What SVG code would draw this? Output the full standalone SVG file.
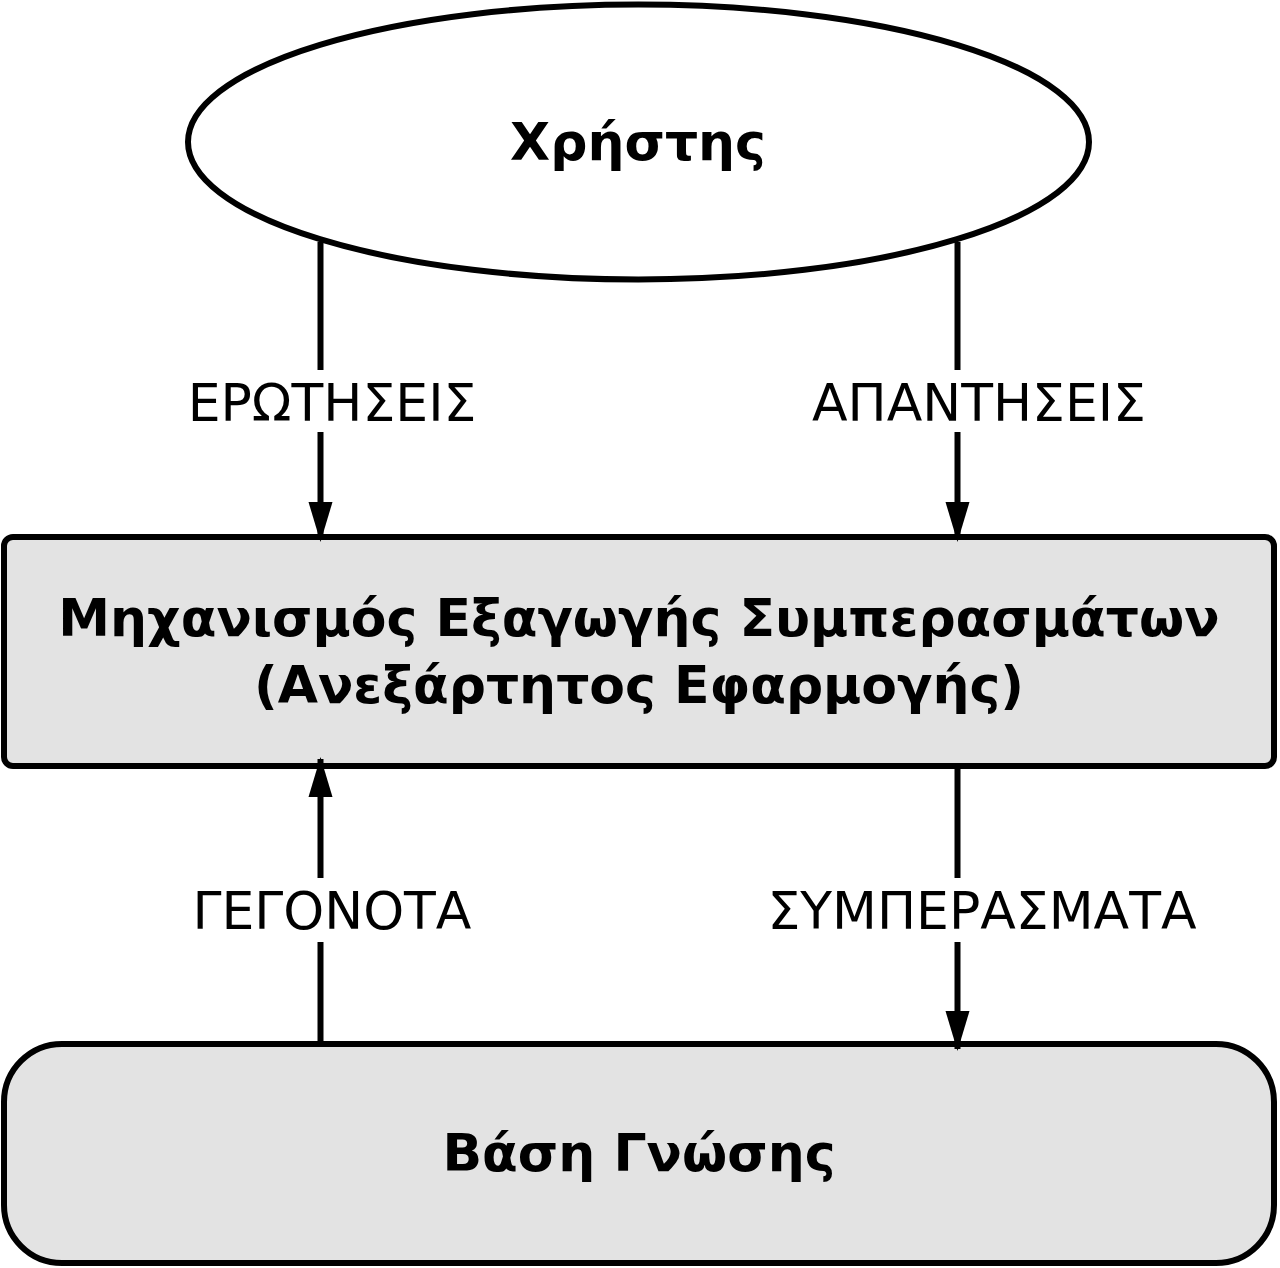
<svg xmlns="http://www.w3.org/2000/svg" width="1280" height="1268" viewBox="0 0 1280 1268">
<style>
.shape{stroke:#000;stroke-width:6}
.t{font-family:"DejaVu Sans",sans-serif;font-size:52px;fill:#000;text-anchor:middle}
.b{font-weight:bold}
.ln{stroke:#000;stroke-width:6;fill:none}
</style>
<defs>
<marker id="ah" markerUnits="userSpaceOnUse" markerWidth="40" markerHeight="26" refX="38" refY="13" orient="auto" viewBox="0 0 40 26">
<path d="M0,1 L40,13 L0,25 Z" fill="#000"/>
</marker>
</defs>
<rect width="1280" height="1268" fill="#fff"/>
<g id="user">
<ellipse class="shape" cx="638.5" cy="142" rx="450.5" ry="137.5" fill="#fff"/>
<text class="t b" x="638" y="160">Χρήστης</text>
</g>
<g id="engine">
<rect class="shape" x="4" y="537" width="1270" height="229" rx="9" fill="#e3e3e3"/>
<text class="t b" x="639" y="636">Μηχανισμός Εξαγωγής Συμπερασμάτων</text>
<text class="t b" x="639" y="703">(Ανεξάρτητος Εφαρμογής)</text>
</g>
<g id="kb">
<rect class="shape" x="4" y="1044" width="1270" height="219" rx="58" fill="#e3e3e3"/>
<text class="t b" x="639" y="1171">Βάση Γνώσης</text>
</g>
<g id="connectors">
<path class="ln" d="M320.5,242 V370"/>
<path class="ln" d="M320.5,432 V540" marker-end="url(#ah)"/>
<path class="ln" d="M957.5,242 V370"/>
<path class="ln" d="M957.5,432 V540" marker-end="url(#ah)"/>
<path class="ln" d="M320.5,1042 V942"/>
<path class="ln" d="M320.5,878 V759" marker-end="url(#ah)"/>
<path class="ln" d="M957.5,768 V878"/>
<path class="ln" d="M957.5,942 V1049" marker-end="url(#ah)"/>
<text class="t" x="332" y="421">ΕΡΩΤΗΣΕΙΣ</text>
<text class="t" x="979" y="421">ΑΠΑΝΤΗΣΕΙΣ</text>
<text class="t" x="332" y="929">ΓΕΓΟΝΟΤΑ</text>
<text class="t" x="982" y="929">ΣΥΜΠΕΡΑΣΜΑΤΑ</text>
</g>
</svg>
